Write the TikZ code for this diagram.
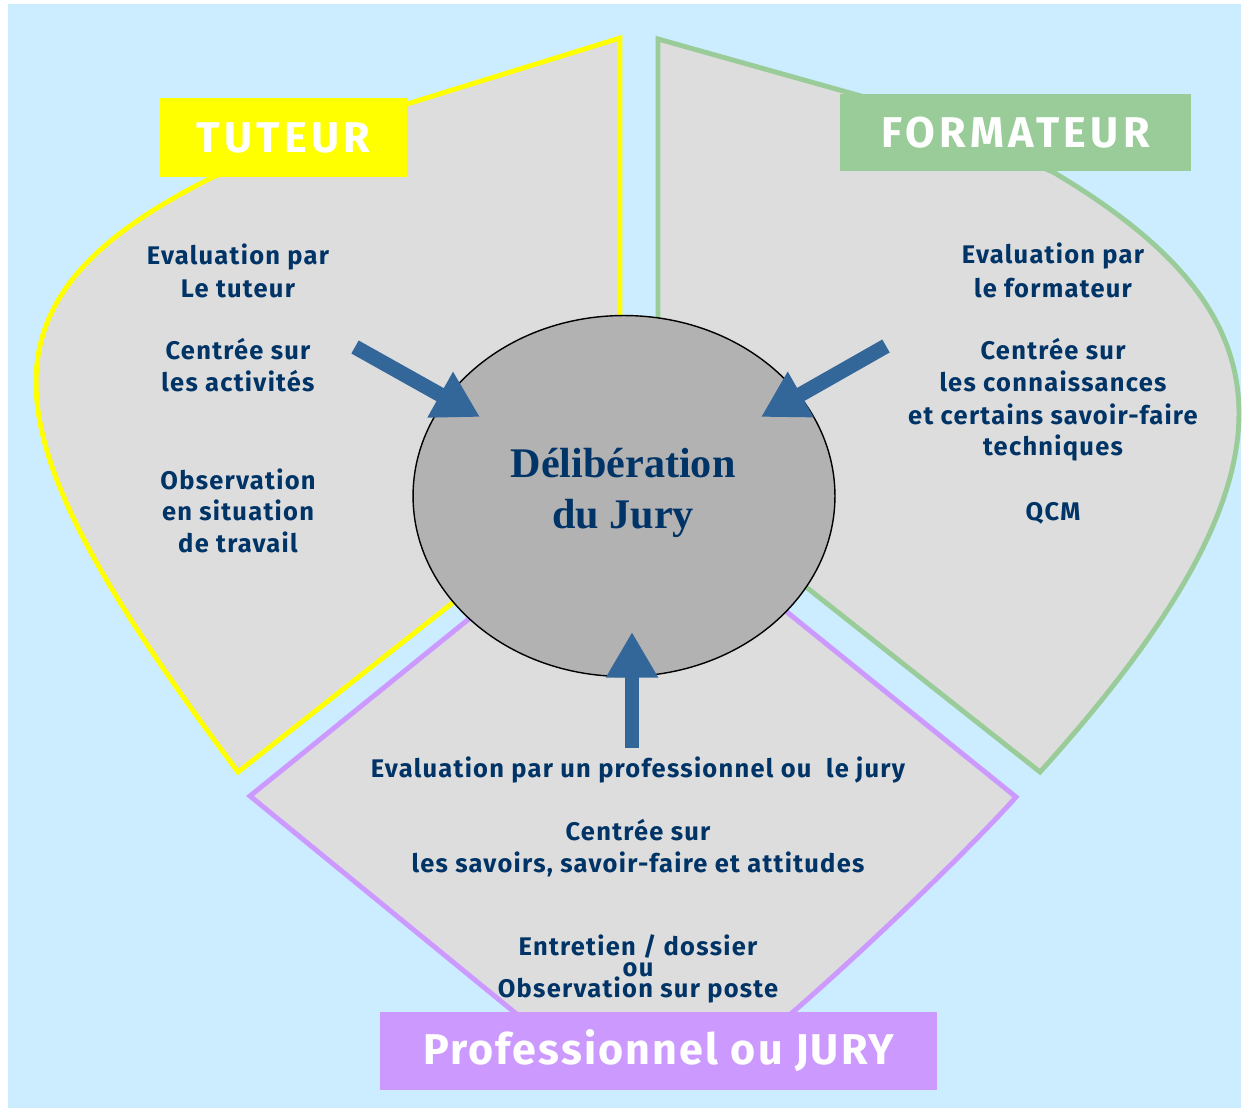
\documentclass[tikz,border=0pt]{standalone}
\usepackage{fontspec}
\setmainfont{Fira Sans}
\newfontfamily\juryfont{Liberation Serif}
\usetikzlibrary{arrows.meta,shapes.geometric}

\definecolor{fond}{HTML}{CCECFF}
\definecolor{zone}{HTML}{DDDDDD}
\definecolor{jaune}{HTML}{FFFF00}
\definecolor{vert}{HTML}{99CC99}
\definecolor{violet}{HTML}{CC99FF}
\definecolor{encre}{HTML}{003366}
\definecolor{fleche}{HTML}{336699}
\definecolor{centre}{HTML}{B2B2B2}

\tikzset{
  zonebord/.style={fill=zone, line width=2.8pt},
  titre/.style={text=white, font=\bfseries\fontsize{24.5}{28}\selectfont\addfontfeature{LetterSpace=#1}, inner sep=0pt},
  titre/.default=10,
  texte/.style={text=encre, font=\bfseries\fontsize{14.5}{18}\selectfont\addfontfeature{LetterSpace=5}, inner sep=0pt, anchor=base},
  jurytexte/.style={text=encre, font=\juryfont\bfseries\fontsize{24}{29}\selectfont, inner sep=0pt, anchor=base},
  cercle/.style={ellipse, draw=black, line width=0.8pt, fill=centre, minimum width=8.44cm, minimum height=7.22cm, inner sep=0pt},
  grosse/.style={draw=fleche, line width=8.5pt, -{Triangle[width=28pt,length=26pt]}},
}

\begin{document}
\begin{tikzpicture}[x=0.02cm, y=-0.02cm, line join=miter]
\useasboundingbox (0,0) rectangle (1243,1111);
\fill[white] (0,0) rectangle (1243,1111);
\fill[fond] (8,4) rectangle (1241,1108);

% les trois zones
\draw[zonebord, draw=jaune] (620,38) -- (620,471) -- (238,772)
  .. controls (-14,436) and (-39,303) .. (213,177) -- (407,104) -- cycle;
\draw[zonebord, draw=vert] (658,39) -- (900,107) -- (1053,172)
  .. controls (1285,310) and (1321,461) .. (1040,772) -- (658,470) -- cycle;
\draw[zonebord, draw=violet] (632,487) -- (250,796) -- (530,1025) -- (778,1025)
  .. controls (870,946) and (975,843) .. (1016,797) -- cycle;

% centre
\node (jury) [cercle] at (624,496) {};
\node (deliberation) [jurytexte] at (623,477) {Délibération};
\node (dujury) [jurytexte] at (623,528) {du Jury};

% titres
\node (tuteur) [titre, fill=jaune, minimum width=4.94cm, minimum height=1.58cm] at (283.5,137.5) {TUTEUR};
\node (formateur) [titre, fill=vert, minimum width=7.02cm, minimum height=1.54cm] at (1015.5,132.5) {FORMATEUR};
\node (professionnel) [titre=5, fill=violet, minimum width=11.14cm, minimum height=1.56cm] at (658.5,1051) {Professionnel ou JURY};

% textes
\foreach \ligne/\y [count=\i] in {Evaluation par/265, Le tuteur/297, Centrée sur/359, les activités/391, Observation/489, en situation/520, de travail/552}
  \node (tut-\i) [texte] at (238,\y) {\ligne};
\foreach \ligne/\y [count=\i] in {Evaluation par/264, le formateur/297, Centrée sur/359, les connaissances/391, et certains savoir-faire/424, techniques/455, QCM/520}
  \node (form-\i) [texte] at (1053,\y) {\ligne};
\foreach \ligne/\y [count=\i] in {{Evaluation par un professionnel ou~ le jury}/777, Centrée sur/840, {les savoirs, savoir-faire et attitudes}/872, {Entretien / dossier}/955, ou/976, Observation sur poste/997}
  \node (pro-\i) [texte] at (638,\y) {\ligne};

% fleches
\coordinate (queue-tut) at (355,347);
\coordinate (pointe-tut) at (480,417);
\coordinate (queue-form) at (886,346);
\coordinate (pointe-form) at (761,417);
\coordinate (queue-pro) at (632,748);
\coordinate (pointe-pro) at (632,632);
\draw[grosse] (queue-tut) -- (pointe-tut);
\draw[grosse] (queue-form) -- (pointe-form);
\draw[grosse] (queue-pro) -- (pointe-pro);
\end{tikzpicture}
\end{document}
